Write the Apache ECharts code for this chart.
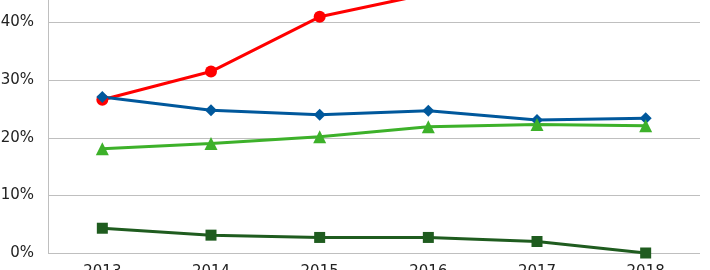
<!DOCTYPE html>
<html><head><meta charset="utf-8">
<script src="https://cdn.jsdelivr.net/npm/echarts@6/dist/echarts.min.js"></script>
<style>html,body{margin:0;padding:0;background:#fff;overflow:hidden;width:710px;height:270px}
#c{position:absolute;left:0;top:-35.5px;width:710px;height:305.5px}</style>
</head><body><div id="c"></div>
<script>
const categories = ['2013','2014','2015','2016','2017','2018'];
const redValues = [26.6, 31.5, 41.0, 45.0, 48.0, 50.0];
const blueValues = [27.1, 24.8, 24.0, 24.7, 23.1, 23.4];
const greenValues = [18.1, 19.0, 20.2, 21.9, 22.3, 22.1];
const darkGreenValues = [4.3, 3.1, 2.7, 2.7, 2.0, 0.0];
const yTicks = [0, 10, 20, 30, 40, 50];

const chart = echarts.init(document.getElementById('c'));
function s(name, data, color, symbol, size) {
  return {name, type:'line', data, symbol, symbolSize:size, showSymbol:true,
    lineStyle:{color, width:3}, itemStyle:{color}, z:2, animation:false};
}
chart.setOption({
  animation:false,
  grid:{left:48, right:10, top:0, bottom:18, containLabel:false, outerBoundsMode:'none'},
  xAxis:{type:'category', data:categories, boundaryGap:true,
    axisLine:{show:false}, axisTick:{show:false},
    axisLabel:{margin:12, fontSize:15, color:'#222', fontFamily:'DejaVu Sans'}},
  yAxis:{type:'value', min:yTicks[0], max:yTicks[yTicks.length-1], interval:10,
    axisLine:{show:true, lineStyle:{color:'#BFBFBF', width:1}},
    axisTick:{show:false},
    splitLine:{lineStyle:{color:'#BFBFBF', width:1}},
    axisLabel:{margin:14, fontSize:15, color:'#222', fontFamily:'DejaVu Sans', formatter:'{value}%'}},
  series:[
    s('red', redValues, '#FF0000', 'circle', 12),
    s('blue', blueValues, '#00589C', 'diamond', 12),
    s('green', greenValues, '#3DB12A', 'triangle', 13),
    s('darkgreen', darkGreenValues, '#1F5C1F', 'rect', 11)
  ]
});
</script></body></html>
